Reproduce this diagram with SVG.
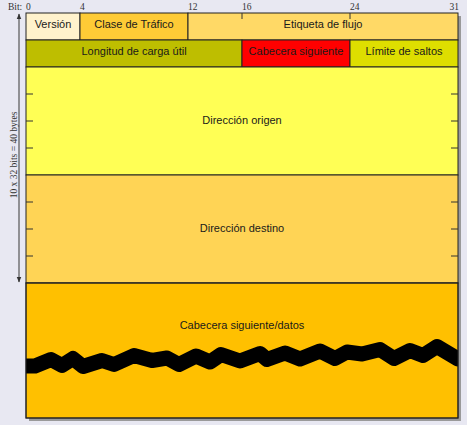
<svg xmlns="http://www.w3.org/2000/svg" width="467" height="425" viewBox="0 0 467 425">
<style>
.cell{stroke:#222;stroke-width:1}
.lbl{font-family:"Liberation Sans",Arial,sans-serif;font-size:11px;fill:#1a1a1a;text-anchor:middle}
.bit{font-family:"Liberation Serif","Times New Roman",serif;font-size:9.5px;fill:#333}
.tick{stroke:#333;stroke-width:1}
</style>
<defs>
<marker id="ah" viewBox="0 0 10 10" refX="9" refY="5" markerWidth="6" markerHeight="8" orient="auto-start-reverse" markerUnits="userSpaceOnUse">
<path d="M0,1 L10,5 L0,9 z" fill="#333"/>
</marker>
<clipPath id="boxclip"><rect x="26" y="283" width="432" height="135"/></clipPath>
</defs>
<rect x="0" y="0" width="467" height="425" fill="#e8e8f2"/>
<rect x="29" y="16" width="432" height="405" fill="#9a9a9a"/>
<g id="bits">
<text class="bit" x="8" y="10" fill="#335">Bit:</text>
<text class="bit" x="26" y="10">0</text>
<text class="bit" x="80" y="10">4</text>
<text class="bit" x="188" y="10">12</text>
<text class="bit" x="242" y="10">16</text>
<text class="bit" x="350" y="10">24</text>
<text class="bit" x="459" y="10" text-anchor="end">31</text>
</g>
<g id="size">
<line x1="19" y1="14" x2="19" y2="282" stroke="#555" stroke-width="1.2" marker-start="url(#ah)" marker-end="url(#ah)"/>
<text class="bit" font-size="11px" transform="translate(17,155) rotate(-90)" text-anchor="middle">10 x 32 bits = 40 bytes</text>
</g>
<g id="version"><rect class="cell" x="26" y="13" width="54" height="27" fill="#fff2cc"/><text class="lbl" x="53" y="28">Versión</text></g>
<g id="traffic"><rect class="cell" x="80" y="13" width="108" height="27" fill="#fecb36"/><text class="lbl" x="134" y="28">Clase de Tráfico</text></g>
<g id="flow"><rect class="cell" x="188" y="13" width="270" height="27" fill="#ffd966"/><text class="lbl" x="323" y="28">Etiqueta de flujo</text></g>
<g id="payload"><rect class="cell" x="26" y="40" width="216" height="27" fill="#bebe00"/><text class="lbl" x="134" y="55">Longitud de carga útil</text></g>
<g id="next"><rect class="cell" x="242" y="40" width="108" height="27" fill="#ff0000"/><text class="lbl" x="296" y="55">Cabecera siguiente</text></g>
<g id="hop"><rect class="cell" x="350" y="40" width="108" height="27" fill="#dede00"/><text class="lbl" x="404" y="55">Límite de saltos</text></g>
<g id="src"><rect class="cell" x="26" y="67" width="432" height="108" fill="#ffff55"/><text class="lbl" x="242" y="124">Dirección origen</text></g>
<g id="dst"><rect class="cell" x="26" y="175" width="432" height="108" fill="#ffd455"/><text class="lbl" x="242" y="232">Dirección destino</text></g>
<g id="data"><rect class="cell" x="26" y="283" width="432" height="135" fill="#ffc000"/><text class="lbl" x="242" y="329">Cabecera siguiente/datos</text>
<polyline clip-path="url(#boxclip)" fill="none" stroke="#000" stroke-width="15" stroke-linejoin="round" points="15,366 35,366 51,359.5 62,365.5 73,358.5 83,366.5 102,360.5 114,364.5 134,355.5 152,360.5 167,358 179,364.5 196,356 210,362 221,354.5 240,361 260,353.5 267,359.5 285,353 300,359 320,351 335,358.5 347,352 362,354 380,349.5 394,358.5 410,350.5 423,355.5 437,346.5 458,359 470,359"/>
<rect x="26" y="283" width="432" height="135" fill="none" stroke="#222" stroke-width="1"/>
</g>
<g id="ticks">
<path class="tick" d="M26,94h7M26,121h7M26,148h7M26,202h7M26,229h7M26,256h7M451,94h7M451,121h7M451,148h7M451,202h7M451,229h7M451,256h7M242,13v6M350,13v6"/>
</g>
</svg>
